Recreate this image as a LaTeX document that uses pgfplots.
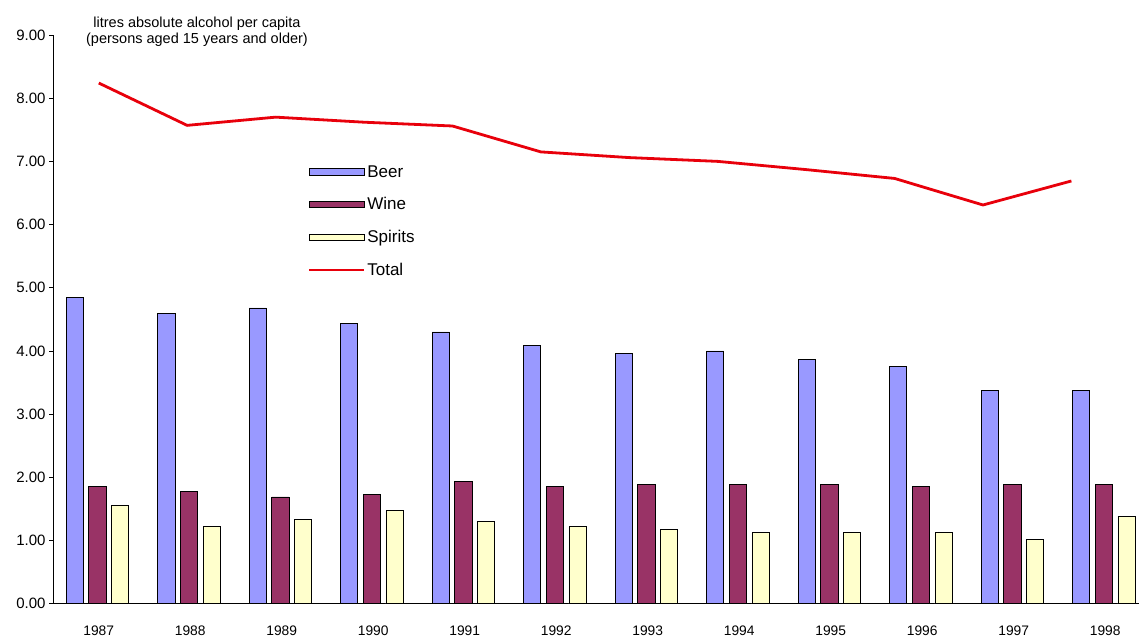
\documentclass[border=0pt]{standalone}
\usepackage{pgfplots}
\usepackage{pgfplotstable}
\pgfplotsset{compat=1.18}
\usepackage{fontspec}
\setmainfont{Liberation Sans}
\definecolor{beer}{HTML}{9999FF}
\definecolor{wine}{HTML}{993366}
\definecolor{spirits}{HTML}{FFFFCC}
\definecolor{total}{HTML}{E8000B}

\pgfplotstableread{
x beer wine spirits
0  4.85 1.85 1.55
1  4.59 1.77 1.22
2  4.68 1.69 1.34
3  4.43 1.73 1.47
4  4.30 1.94 1.30
5  4.09 1.85 1.22
6  3.96 1.89 1.18
7  4.00 1.89 1.13
8  3.87 1.89 1.13
9  3.75 1.85 1.13
10 3.37 1.89 1.01
11 3.37 1.89 1.38
}\bars

\pgfplotstableread{
x total
0      8.24
0.966  7.57
1.933  7.70
2.899  7.62
3.866  7.56
4.832  7.15
5.798  7.06
6.765  7.00
7.731  6.87
8.698  6.73
9.664  6.31
10.630 6.69
}\totals

\begin{document}
\begin{tikzpicture}[x=1pt,y=1pt]
\path[use as bounding box] (0,0) rectangle (1139,638);
\begin{axis}[
  at={(53pt,34.3pt)}, anchor=south west,
  scale only axis, width=1086pt, height=568.7pt,
  xmin=-0.5, xmax=11.369, ymin=0, ymax=9,
  axis x line=bottom, axis y line=left,
  axis line style={-, line width=0.8pt, black},
  tick align=outside,
  ytick={0,1,...,9},
  major tick length=4pt,
  tick style={black, line width=0.8pt},
  yticklabel style={font=\fontsize{15}{15}\selectfont,
    /pgf/number format/.cd, fixed, fixed zerofill, precision=2, assume math mode=true},
  xtick={0,...,11},
  xticklabels={1987,1988,1989,1990,1991,1992,1993,1994,1995,1996,1997,1998},
  xticklabel style={font=\fontsize{13.8}{13.8}\selectfont, yshift=-14.5pt},
  x tick style={draw=none},
  extra x ticks={-0.5,0.5,1.5,2.5,3.5,4.5,5.5,6.5,7.5,8.5,9.5,10.5},
  extra x tick labels={},
  extra x tick style={tick style={draw=black, line width=0.8pt}, major tick length=5pt},
  legend style={at={(axis description cs:0.232,0.778)}, anchor=north west,
    draw=none, fill=none, font=\fontsize{17}{17}\selectfont, row sep=15pt},
  legend cell align=left,
]
\addplot[ybar, bar width=17.3pt, bar shift=-24pt, fill=beer, draw=black, line width=0.8pt,
  legend image code/.code={\draw[fill=beer, draw=black, line width=0.8pt] (0pt,-3.3pt) rectangle (55pt,3.3pt);}]
  table[x=x, y=beer] {\bars};
\addlegendentry{Beer}
\addplot[ybar, bar width=17.3pt, bar shift=-1.3pt, fill=wine, draw=black, line width=0.8pt,
  legend image code/.code={\draw[fill=wine, draw=black, line width=0.8pt] (0pt,-3.3pt) rectangle (55pt,3.3pt);}]
  table[x=x, y=wine] {\bars};
\addlegendentry{Wine}
\addplot[ybar, bar width=17.3pt, bar shift=21.4pt, fill=spirits, draw=black, line width=0.8pt,
  legend image code/.code={\draw[fill=spirits, draw=black, line width=0.8pt] (0pt,-3.3pt) rectangle (55pt,3.3pt);}]
  table[x=x, y=spirits] {\bars};
\addlegendentry{Spirits}
\addplot[sharp plot, no markers, draw=total, line width=2.8pt,
  legend image code/.code={\draw[draw=total, line width=2.2pt] (0pt,0pt) -- (55pt,0pt);}]
  table[x=x, y=total] {\totals};
\addlegendentry{Total}
\end{axis}
\node[align=center, font=\fontsize{14.5}{15.5}\selectfont, inner sep=0pt] at (197,606) {litres absolute alcohol per capita\\(persons aged 15 years and older)};
\end{tikzpicture}
\end{document}
